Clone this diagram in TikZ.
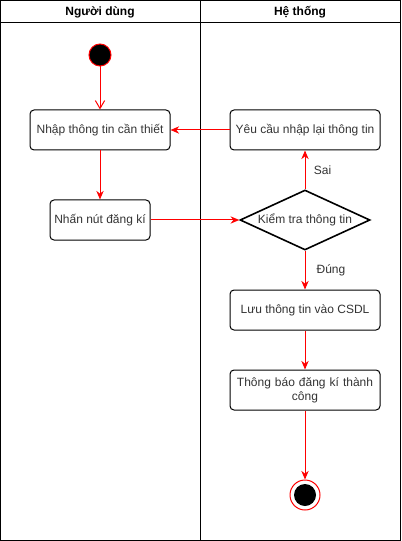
\documentclass[tikz,border=0pt]{standalone}
\usepackage{fontspec}
\setmainfont{Liberation Sans}
\usetikzlibrary{arrows.meta,shapes.geometric}
\begin{document}
\begin{tikzpicture}[x=0.75pt,y=-0.75pt,
  font=\fontsize{9}{10.5}\selectfont,
  act/.style={draw=black,rounded corners=3pt,line width=0.75pt,text=black!80,align=center,inner sep=0pt},
  flow/.style={draw=red,line width=0.75pt,-{Stealth[length=6.5pt,width=5.5pt]}},
  lane/.style={draw=black,line width=0.75pt}]
\useasboundingbox (0,0) rectangle (401,541);
% swimlanes
\draw[lane] (0.5,0.5) rectangle (400.5,540.5);
\draw[lane] (0.5,23) -- (400.5,23);
\draw[lane] (200.5,0.5) -- (200.5,540.5);
\node[font=\fontsize{9}{10.5}\selectfont\bfseries] (h1) at (100,12) {Người dùng};
\node[font=\fontsize{9}{10.5}\selectfont\bfseries] (h2) at (300,12) {Hệ thống};
% nodes
\node[circle,fill=black,draw=red,line width=0.75pt,minimum size=16.5pt,inner sep=0pt] (start) at (100,55) {};
\node[act,minimum width=105pt,minimum height=30pt] (nhap) at (100,130) {Nhập thông tin cần thiết};
\node[act,minimum width=75pt,minimum height=30pt] (nhan) at (100,220) {Nhấn nút đăng kí};
\node[act,minimum width=112.5pt,minimum height=30pt] (yeu) at (305,130) {Yêu cầu nhập lại thông tin};
\node[diamond,draw=black,line width=1.2pt,aspect=2.1667,minimum width=97.5pt,minimum height=45pt,inner sep=0pt] (kiem) at (305,220) {};
\node[text=black!80] (kiemt) at (305,220) {Kiểm tra thông tin};
\node[act,minimum width=112.5pt,minimum height=30pt] (luu) at (305,310) {Lưu thông tin vào CSDL};
\node[act,minimum width=112.5pt,minimum height=30pt,text width=108pt] (tb) at (305,390) {Thông báo đăng kí thành\\công};
\node[circle,draw=red,line width=0.75pt,fill=white,minimum size=22.5pt,inner sep=0pt] (end) at (305,495) {};
\node[circle,fill=black,minimum size=16.5pt,inner sep=0pt] (endin) at (305,495) {};
% connectors
\draw[draw=red,line width=0.75pt,-{Straight Barb[length=6pt,width=7pt]}] (start) -- (nhap);
\draw[flow] (nhap) -- (nhan);
\draw[flow] (nhan.east) -- (kiem.west);
\draw[flow] (yeu.west) -- (nhap.east);
\draw[flow] (kiem.north) -- node[right=3pt,text=black!80] (sai) {Sai} (yeu.south);
\draw[flow] (kiem.south) -- node[right=5pt,text=black!80] (dung) {Đúng} (luu.north);
\draw[flow] (luu) -- (tb);
\draw[flow] (tb) -- (end);
\end{tikzpicture}
\end{document}
